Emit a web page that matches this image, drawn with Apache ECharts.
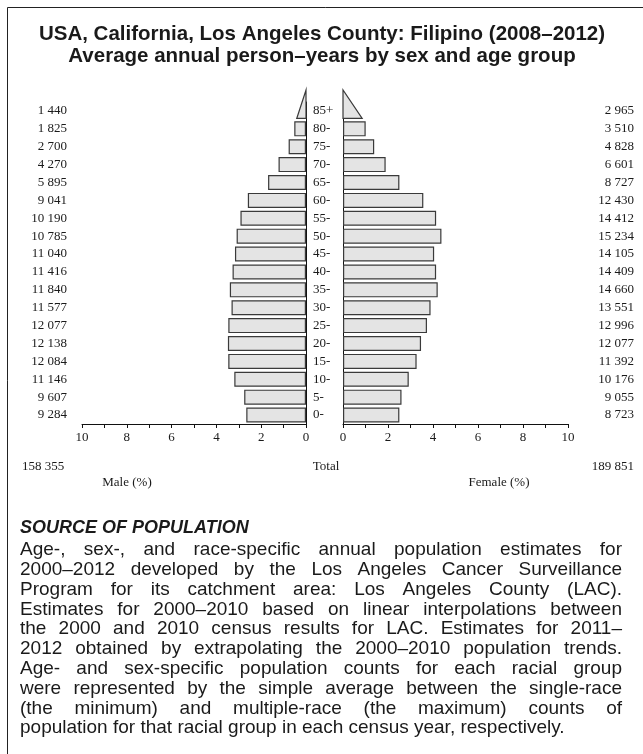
<!DOCTYPE html>
<html><head><meta charset="utf-8">
<script src="https://cdn.jsdelivr.net/npm/echarts@6/dist/echarts.min.js"></script>
<style>html,body{margin:0;padding:0;background:#fff}#c{width:643px;height:754px}</style>
</head><body><div id="c"></div>
<script>
const ages = ['85+','80-','75-','70-','65-','60-','55-','50-','45-','40-','35-','30-','25-','20-','15-','10-','5-','0-'];
const maleCounts = [1440,1825,2700,4270,5895,9041,10190,10785,11040,11416,11840,11577,12077,12138,12084,11146,9607,9284];
const femaleCounts = [2965,3510,4828,6601,8727,12430,14412,15234,14105,14409,14660,13551,12996,12077,11392,10176,9055,8723];
const maleTotal = 158355;
const femaleTotal = 189851;
const titleLines = ['USA, California, Los Angeles County: Filipino (2008\u20132012)', 'Average annual person\u2013years by sex and age group'];
const sourceHeading = 'SOURCE OF POPULATION';
const sourceLines = [
 'Age-, sex-, and race-specific annual population estimates for',
 '2000\u20132012 developed by the Los Angeles Cancer Surveillance',
 'Program for its catchment area: Los Angeles County (LAC).',
 'Estimates for 2000\u20132010 based on linear interpolations between',
 'the 2000 and 2010 census results for LAC. Estimates for 2011\u2013',
 '2012 obtained by extrapolating the 2000\u20132010 population trends.',
 'Age- and sex-specific population counts for each racial group',
 'were represented by the simple average between the single-race',
 '(the minimum) and multiple-race (the maximum) counts of',
 'population for that racial group in each census year, respectively.'
];

const grand = maleTotal + femaleTotal;
const pct = c => c / grand * 100;
const fmt = n => String(n).replace(/\B(?=(\d{3})+(?!\d))/g, ' ');
const SERIF = "'Liberation Serif','Times New Roman',serif";
const SANS = "'Liberation Sans',Arial,Helvetica,sans-serif";
const TXT = '#1a1a1a';
const BAR_FILL = '#e4e4e4', BAR_STROKE = '#3a3a3a';

const chart = echarts.init(document.getElementById('c'), null, {renderer:'canvas'});

function xAx(grid, inverse) {
  return {
    gridIndex: grid, type: 'value', min: 0, max: 10, interval: 1, inverse: inverse, position: 'bottom',
    axisLine: {show: true, onZero: false, lineStyle: {color: '#111', width: 1}},
    axisTick: {show: true, length: 4, lineStyle: {color: '#111'}},
    axisLabel: {formatter: v => (v % 2 === 0 ? String(v) : ''), fontFamily: SERIF, fontSize: 13, color: TXT, margin: 7},
    splitLine: {show: false}
  };
}

function triangle(params, api) {
  const v = api.value(0);
  const c = api.coord([0, api.value(1)]);
  const e = api.coord([v, api.value(1)]);
  const top = c[1] - 21;
  const bot = c[1] + 7.5;
  return {type: 'polygon', shape: {points: [[c[0], top], [c[0], bot], [e[0], bot]]},
    style: {fill: BAR_FILL, stroke: BAR_STROKE, lineWidth: 1.2}};
}

const ctx = document.createElement('canvas').getContext('2d');
function justified(line, y, x0, x1, font, last) {
  ctx.font = font;
  const words = line.split(' ');
  const widths = words.map(w => ctx.measureText(w).width);
  const total = widths.reduce((a, b) => a + b, 0);
  const gap = last ? ctx.measureText(' ').width : (x1 - x0 - total) / (words.length - 1);
  let x = x0; const els = [];
  words.forEach((w, i) => {
    els.push({type: 'text', silent: true, style: {text: w, x: x, y: y, font: font, fill: TXT, textVerticalAlign: 'middle'}});
    x += widths[i] + gap;
  });
  return els;
}

const bodyFont = "19px " + SANS;
let graphics = [
  {type: 'line', silent: true, shape: {x1: 7.5, y1: 7.5, x2: 643, y2: 7.5}, style: {stroke: '#222', lineWidth: 1}},
  {type: 'line', silent: true, shape: {x1: 7.5, y1: 7.5, x2: 7.5, y2: 754}, style: {stroke: '#222', lineWidth: 1}},
  {type: 'text', silent: true, style: {text: titleLines[0], x: 322, y: 34, font: "bold 20.5px " + SANS, fill: TXT, textAlign: 'center', textVerticalAlign: 'middle'}},
  {type: 'text', silent: true, style: {text: titleLines[1], x: 322, y: 56, font: "bold 20.5px " + SANS, fill: TXT, textAlign: 'center', textVerticalAlign: 'middle'}},
  {type: 'text', silent: true, style: {text: fmt(maleTotal), x: 22, y: 467, font: "13px " + SERIF, fill: TXT, textAlign: 'left', textVerticalAlign: 'middle'}},
  {type: 'text', silent: true, style: {text: 'Total', x: 326, y: 467, font: "13px " + SERIF, fill: TXT, textAlign: 'center', textVerticalAlign: 'middle'}},
  {type: 'text', silent: true, style: {text: fmt(femaleTotal), x: 634, y: 467, font: "13px " + SERIF, fill: TXT, textAlign: 'right', textVerticalAlign: 'middle'}},
  {type: 'text', silent: true, style: {text: 'Male (%)', x: 127, y: 483, font: "13px " + SERIF, fill: TXT, textAlign: 'center', textVerticalAlign: 'middle'}},
  {type: 'text', silent: true, style: {text: 'Female (%)', x: 499, y: 483, font: "13px " + SERIF, fill: TXT, textAlign: 'center', textVerticalAlign: 'middle'}},
  {type: 'text', silent: true, style: {text: sourceHeading, x: 20, y: 528, font: "italic bold 18px " + SANS, fill: TXT, textAlign: 'left', textVerticalAlign: 'middle'}}
];
sourceLines.forEach((l, i) => {
  graphics = graphics.concat(justified(l, 550 + i * 19.8, 20, 622, bodyFont, i === sourceLines.length - 1));
});

const option = {
  animation: false,
  backgroundColor: '#fff',
  grid: [
    {left: 82, top: 102, width: 224, height: 322},
    {left: 343, top: 102, width: 225, height: 322}
  ],
  xAxis: [xAx(0, true), xAx(1, false)],
  yAxis: [
    {gridIndex: 0, type: 'category', data: ages, inverse: true, position: 'right',
      axisLine: {show: true, onZero: false, lineStyle: {color: '#111', width: 1}}, axisTick: {show: false},
      axisLabel: {margin: 7, align: 'left', fontFamily: SERIF, fontSize: 13, color: TXT}},
    {gridIndex: 0, type: 'category', data: maleCounts.map(fmt), inverse: true, position: 'left',
      axisLine: {show: false}, axisTick: {show: false},
      axisLabel: {margin: 15, align: 'right', fontFamily: SERIF, fontSize: 13, color: TXT}},
    {gridIndex: 1, type: 'category', data: ages, inverse: true, position: 'left',
      axisLine: {show: true, onZero: false, lineStyle: {color: '#111', width: 1}}, axisTick: {show: false},
      axisLabel: {show: false}},
    {gridIndex: 1, type: 'category', data: femaleCounts.map(fmt), inverse: true, position: 'right',
      axisLine: {show: false}, axisTick: {show: false},
      axisLabel: {margin: 66, align: 'right', fontFamily: SERIF, fontSize: 13, color: TXT}}
  ],
  series: [
    {type: 'bar', xAxisIndex: 0, yAxisIndex: 0, barWidth: 15,
      data: maleCounts.map((c, i) => (ages[i] === '85+' ? '-' : pct(c))),
      itemStyle: {color: BAR_FILL, borderColor: BAR_STROKE, borderWidth: 1.2}},
    {type: 'bar', xAxisIndex: 1, yAxisIndex: 2, barWidth: 15,
      data: femaleCounts.map((c, i) => (ages[i] === '85+' ? '-' : pct(c))),
      itemStyle: {color: BAR_FILL, borderColor: BAR_STROKE, borderWidth: 1.2}},
    {type: 'custom', xAxisIndex: 0, yAxisIndex: 0, renderItem: triangle, encode: {x: 0, y: 1},
      data: [[pct(maleCounts[0]), ages[0]]]},
    {type: 'custom', xAxisIndex: 1, yAxisIndex: 2, renderItem: triangle, encode: {x: 0, y: 1},
      data: [[pct(femaleCounts[0]), ages[0]]]}
  ],
  graphic: graphics
};
chart.setOption(option);
</script>
</body></html>
